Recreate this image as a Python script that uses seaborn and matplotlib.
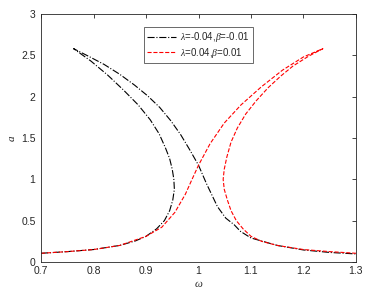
import numpy as np
import pandas as pd
import matplotlib
matplotlib.use("Agg")
import matplotlib.pyplot as plt
import seaborn as sns

# --- curve points (omega, a), traced in order ---
omega_neg = [0.70, 0.75, 0.80, 0.85, 0.88, 0.90, 0.92, 0.935, 0.945, 0.951, 0.954,
             0.953, 0.950, 0.945, 0.937, 0.925, 0.908, 0.885, 0.857, 0.827, 0.795, 0.762,
             0.79, 0.82, 0.85, 0.878, 0.903, 0.926, 0.947, 0.966, 0.983, 1.00, 1.015,
             1.036, 1.052, 1.068, 1.08, 1.10, 1.15, 1.20, 1.25, 1.30]
a_neg = [0.105, 0.125, 0.15, 0.20, 0.255, 0.31, 0.40, 0.50, 0.62, 0.75, 0.88,
         1.00, 1.12, 1.25, 1.38, 1.55, 1.72, 1.90, 2.08, 2.26, 2.43, 2.58,
         2.49, 2.39, 2.27, 2.14, 2.01, 1.87, 1.71, 1.54, 1.36, 1.17, 0.95,
         0.67, 0.53, 0.45, 0.37, 0.29, 0.20, 0.145, 0.115, 0.097]

omega_pos = [0.70, 0.75, 0.80, 0.85, 0.90, 0.93, 0.955, 0.975, 0.987, 1.00, 1.022,
             1.049, 1.081, 1.12, 1.16, 1.20, 1.237,
             1.21, 1.18, 1.157, 1.133, 1.11, 1.09, 1.074, 1.062, 1.054, 1.049, 1.047,
             1.049, 1.055, 1.062, 1.072, 1.085, 1.10, 1.12, 1.15, 1.20, 1.25, 1.30]
a_pos = [0.105, 0.125, 0.15, 0.20, 0.31, 0.42, 0.60, 0.82, 0.99, 1.17, 1.43,
         1.68, 1.90, 2.12, 2.32, 2.48, 2.58,
         2.49, 2.37, 2.25, 2.11, 1.95, 1.79, 1.62, 1.45, 1.27, 1.12, 1.00,
         0.88, 0.75, 0.62, 0.50, 0.40, 0.31, 0.25, 0.20, 0.15, 0.125, 0.105]

label_neg = r"$\lambda$=-0.04,$\beta$=-0.01"
label_pos = r"$\lambda$=0.04,$\beta$=0.01"

df_neg = pd.DataFrame({"omega": omega_neg, "a": a_neg})
df_pos = pd.DataFrame({"omega": omega_pos, "a": a_pos})

sns.set_style("white")
plt.rcParams["font.family"] = ["Liberation Sans", "DejaVu Sans"]
plt.rcParams["mathtext.fontset"] = "custom"
plt.rcParams["mathtext.it"] = "Liberation Serif:italic"

fig = plt.figure(figsize=(3.7, 2.97), dpi=100)
ax = fig.add_axes([0.111, 0.118, 0.851, 0.835])

sns.lineplot(data=df_neg, x="omega", y="a", sort=False, estimator=None,
             color="black", linestyle="-.", linewidth=0.8, label=label_neg, ax=ax)
sns.lineplot(data=df_pos, x="omega", y="a", sort=False, estimator=None,
             color="red", linestyle="--", linewidth=0.8, label=label_pos, ax=ax)

ax.set_xlim(0.7, 1.3)
ax.set_ylim(0, 3)
ax.set_xticks(np.arange(0.7, 1.31, 0.1))
ax.set_xticklabels(["0.7", "0.8", "0.9", "1", "1.1", "1.2", "1.3"])
ax.set_yticks(np.arange(0, 3.01, 0.5))
ax.set_yticklabels(["0", "0.5", "1", "1.5", "2", "2.5", "3"])
ax.tick_params(direction="in", length=3, width=0.6, labelsize=7.5,
               top=True, right=True, colors="#262626")
ax.tick_params(axis="y", pad=4)
ax.tick_params(axis="x", pad=3)
for s in ax.spines.values():
    s.set_color("#262626")
    s.set_linewidth(0.6)

ax.set_xlabel(r"$\omega$", fontsize=8, labelpad=2)
ax.set_ylabel(r"$a$", fontsize=8, rotation=90, labelpad=3)

leg = ax.legend(loc="upper center", fontsize=7, frameon=True, fancybox=False,
                handlelength=3.0, handletextpad=0.4, borderpad=0.3,
                labelspacing=0.15, bbox_to_anchor=(0.5, 0.965))
leg.get_frame().set_edgecolor("#262626")
leg.get_frame().set_linewidth(0.6)

fig.savefig("out.png", dpi=100)
